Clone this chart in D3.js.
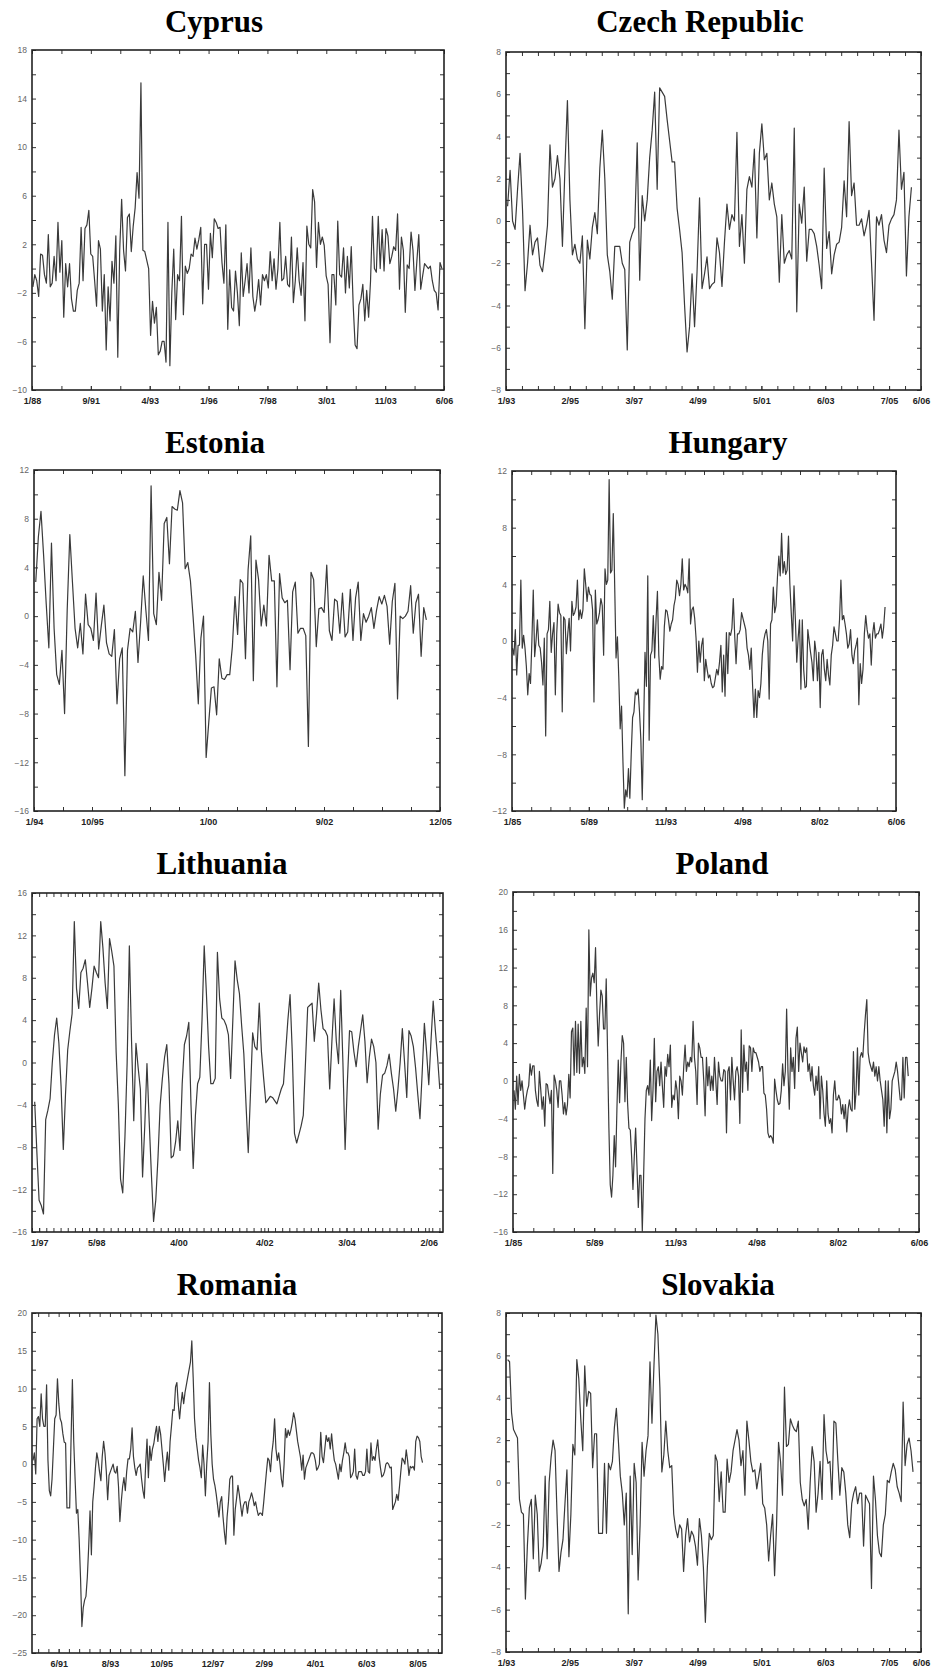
<!DOCTYPE html>
<html>
<head>
<meta charset="utf-8">
<script src="https://cdn.jsdelivr.net/npm/d3@7"></script>
<style>
body { margin: 0; background: #fff; }
</style>
</head>
<body>
<script>
// monthly series
var cyprusValues = [-1.5,-0.5,-1,-2.3,1.2,1.1,-0.5,-1.2,2.8,-1.5,-1.2,1.0,-1,3.8,-0.3,2.3,-4.0,0.4,-1.5,0.4,-2.5,-3.5,-3.5,-1.8,-1.2,3.4,-1.0,3.3,3.6,4.8,1.2,1.0,-1.0,-3.1,2.3,1.6,-3.5,-0.5,-6.7,-1.5,-4.3,0.6,-1.2,2.7,-7.3,1.5,5.7,1.5,-0.2,4.2,4.5,1.4,3.5,5.0,7.9,5.8,15.3,1.5,1.4,0.7,0,-5.5,-2.7,-4.5,-3.2,-7.1,-6.8,-6.0,-6.0,-7.7,3.8,-8.0,-2,1.6,-4.2,-0.5,-1,4.3,-3.8,0.2,-0.4,0,1.2,1.0,2.5,1.6,2.4,3.4,-2.9,2.0,2.0,-1.7,2.9,0.9,4.1,3.8,3.3,3.4,0.5,-1.2,3.6,-5.0,-0.1,-3.2,-3.5,-0.2,-2.0,-4.7,1.3,-2.3,-1.0,0.4,-2.0,1.7,-2.3,-3.5,-2.5,-0.9,-3.0,-0.5,-1.0,-0.5,-1.6,1.4,-1.0,0.8,-1.7,0.0,3.8,-1.0,-0.8,1.0,-1.3,-1.5,2.6,-2.8,-1.0,1.7,-1.0,-2.2,0.5,-4.3,3.5,2.0,1.7,6.5,5.5,0.1,3.8,2.0,2.6,1.9,-0.6,-1.3,-6.1,-0.5,-0.5,-3.0,3.9,-0.5,-0.7,1.7,-2.0,1.0,-1.6,1.8,-3.0,-6.3,-6.6,-3.0,-2.5,-1.3,-4.3,-1.8,-4.0,-1.0,4.3,0.0,-0.3,4.3,0.0,3.2,-0.2,3.3,2.7,0.4,1.0,1.8,1.5,4.5,-1.7,2.6,1.5,-3.6,0.3,0.0,3.0,1.5,-1.8,0.6,2.8,-1.7,-0.6,0.4,0.2,0.0,0.2,-1.0,-1.8,-2.0,-3.4,0.5,0.0];
var czechValues = [0.7,2.4,0.0,-0.4,1.5,3.2,0.5,-3.3,-2.0,-0.2,-1.6,-1.0,-0.8,-2.1,-2.4,-1.4,-0.2,3.6,1.6,2.0,3.1,2.0,-1.2,2.5,5.7,1.0,-1.6,-1.1,-1.8,-2.0,-0.7,-5.1,-0.9,-1.8,-0.3,0.4,-0.6,2.5,4.3,2.0,-1.6,-2.4,-3.7,-1.2,-1.2,-1.2,-2.0,-2.3,-6.1,-1.0,-0.6,-0.3,3.7,-2.8,1.2,0.0,1.0,3.0,4.3,6.1,1.5,6.3,6.1,5.9,4.8,3.8,2.8,2.8,0.6,-0.4,-1.5,-4.0,-6.2,-5.0,-2.5,-5.0,-2.4,1.1,-3.2,-2.5,-1.7,-3.2,-3.0,-2.9,-0.8,-1.5,-3.1,-1.0,0.8,-0.4,0.3,0.0,4.2,-1.2,0.3,-2.0,1.5,2.1,1.6,3.4,-0.8,3.2,4.6,2.9,3.2,1.0,1.8,0.8,0.2,-2.9,0.3,-2.0,-1.6,-1.4,-1.8,4.4,-4.3,0.8,-0.1,1.6,-1.9,-0.4,-0.4,-0.6,-1.2,-2.1,-3.2,2.5,-1.3,-0.5,-2.5,-1.6,-1.1,-1.0,-0.3,1.9,0.2,4.7,1.2,1.8,-0.2,-0.2,0.1,-0.7,-0.2,0.5,-2.0,-4.7,0.2,-0.2,0.3,-0.9,-1.5,-0.2,0.1,0.3,1.0,4.3,1.5,2.3,-2.6,0.2,1.6];
var estoniaValues = [2.8,6.5,8.6,5.0,1.0,-2.6,6.0,-1.0,-4.8,-5.6,-2.8,-8.0,0.5,6.7,2.8,-1.0,-2.6,-0.6,-3.1,1.8,-0.7,-1.0,-2.0,1.9,-2.7,-0.8,0.9,-2.2,-3.1,-3.3,-1.1,-7.2,-3.5,-2.6,-13.1,-2.8,-1.0,-1.3,0.4,-3.8,-0.5,3.3,0.5,-2.0,10.7,0.2,-0.7,3.6,1.3,7.6,8.1,4.3,9.0,8.8,8.7,10.3,9.3,3.9,4.4,2.9,0,-3.2,-7.2,-1.8,0,-11.6,-8.7,-5.9,-5.8,-8.1,-3.5,-5.1,-5.2,-4.8,-4.8,-2.5,1.6,-1.5,3.0,2.7,-3.5,3.8,6.6,-5.3,4.6,3.0,-0.8,0.9,-0.8,5.0,2.9,2.9,-5.8,3.5,1.5,1.1,1.3,-4.4,2.0,2.8,-1.4,-1.0,-1.0,-1.6,-10.7,3.6,3.0,-2.5,0.6,0.7,0.3,4.2,-1.2,-2.0,1.4,1.2,-1.4,1.9,-1.7,-1.3,2.2,-2.0,1.5,2.8,-2.0,0.2,-0.5,0,0.7,-1.0,0.5,1.6,1.0,1.7,0.8,-2.3,1.2,2.7,-6.8,0,-0.2,0,0.4,2.5,-1.4,1.1,1.8,-3.3,0.7,-0.3];
var hungaryValues = [-0.5,-1.0,0.8,-2.4,-0.3,-0.3,4.3,-0.5,0.4,-0.5,-1.8,-3.8,-2.3,-3.0,0,3.6,-1.1,0,1.5,-0.3,-0.5,-1.5,-3.1,0.2,-6.7,0.5,0.8,2.8,-0.8,0.5,1.3,-3.8,0.5,2.6,2.0,1.8,-5.0,1.7,1.5,-0.9,0.5,1.6,-0.7,2.8,1.8,2.0,2.4,4.3,1.5,2.2,1.6,2.2,5.1,4.0,2.8,3.8,3.3,3.2,2.2,-4.3,3.6,1.2,1.5,2.0,3.0,2.5,-1.0,5.1,4.0,4.3,11.4,4.8,5.0,9.0,4.0,-1.2,0.3,-2.6,-6.2,-4.6,-8.5,-11.8,-10.5,-11.0,-9.0,-11.1,-8.0,-5.4,-5.0,-3.6,-3.8,-3.4,-5.0,-7.0,-11.2,-6.0,-0.8,-3.2,4.6,-7.0,-1.0,-0.7,1.8,-1.2,1.5,3.5,-1.0,-2.7,-1.8,-2.0,1.0,2.2,2.1,1.5,0.7,1.2,1.5,2.5,3.0,4.3,4.0,3.2,4.0,5.8,3.6,4.0,3.8,3.4,5.8,1.2,2.2,2.4,1.6,0.2,-2.2,0.0,-1.5,-0.3,0.2,-2.8,-1.3,-2.0,-2.6,-2.4,-3.0,-3.3,-3.2,-2.6,-2.0,-2.4,-1.5,-0.3,-3.6,-1.0,-3.9,0.6,-2.3,0.6,0.4,0.9,3.0,0.4,-1.6,0.5,0.5,0.8,2.0,1.6,1.2,0.8,-0.5,-1.0,-2.0,-0.5,-3.2,-5.4,-3.4,-5.4,-3.5,-4.0,-3.0,-1.0,0.0,0.5,0.8,0.0,-4.1,1.2,1.5,3.8,2.0,2.5,4.5,6.0,4.6,7.6,4.8,5.6,4.7,5.0,7.4,4.0,2.0,0.0,3.9,1.5,-1.5,0.2,1.5,-3.4,1.5,-2.0,-3.3,-3.2,0.8,0.0,-0.8,-1.5,-2.8,0.0,-0.8,-2.8,-0.8,-4.7,-1.0,-0.6,-2.0,-2.8,-1.3,-2.4,-3.1,-1.0,-0.3,1.0,0.5,0.0,0.0,1.5,4.3,1.5,1.8,1.2,0.5,-0.5,-0.2,0.8,-1.0,-1.6,-0.7,-0.3,0.2,-4.5,-1.6,-3.0,-2.0,0.5,1.8,0.8,0.2,0.5,-1.7,0.5,1.3,0.2,0.5,0.5,0.8,1.2,0.2,1.0,2.4];
var lithuaniaValues = [-3.7,-8.5,-13.0,-13.5,-14.3,-5.4,-4.5,-3.4,0,2.6,4.2,1.8,-2.3,-8.2,-3.0,1.2,3.0,4.6,13.3,7.0,5.1,8.5,8.9,9.7,7.5,5.2,7.0,9.1,8.5,8.0,13.3,10.8,7.5,5.1,11.7,10.5,9.1,1.0,-4.0,-11.0,-12.3,-7.0,0,11.0,2.0,-5.5,1.8,-0.5,-2.5,-10.8,-6.0,-0.1,-5.5,-10.5,-15.0,-13.0,-9.0,-4.0,-1.5,0.5,1.7,-2.0,-9.0,-8.8,-7.5,-5.5,-8.3,-2.0,1.7,2.5,3.8,-4.0,-10.0,-5.0,-2.0,-1.4,4.0,11.0,6.5,1.5,-2.0,-2.0,-1.5,10.4,6.0,4.2,4.0,3.5,2.6,-1.5,4.0,9.6,7.8,6.5,3.5,0.8,-4.0,-8.5,-3.0,2.8,1.5,1.2,5.6,1.0,-1.5,-3.8,-3.5,-3.2,-3.3,-3.6,-3.9,-3.2,-2.5,-2.0,1.0,4.0,6.4,1.0,-6.7,-7.6,-6.8,-6.0,-5.0,0,5.2,5.4,5.6,2.0,4.5,7.5,5.0,3.2,3.0,2.5,-2.5,2.0,6.0,2.0,-0.1,6.8,0,-8.2,-2.0,3.0,2.9,1.0,-0.4,1.5,3.0,4.5,2.0,-1.9,0.5,2.2,1.5,0,-6.3,-3.0,-1.2,-1.0,-0.3,0.8,-1.0,-2.5,-4.6,-2.5,0,3.2,0,-3.3,3.0,2.5,1.5,-0.5,-3.0,-5.3,-1.0,3.7,1.0,-2.1,2.0,5.8,3.0,0.5,-2.5];
var polandValues = [-1.0,-3.0,0.5,-2.5,0.7,-1.0,0,-1.5,-3.0,-1.8,-1.0,-0.5,1.8,0.6,1.6,1.6,-1.0,-2.1,-2.7,1.0,-0.9,-3.0,-1.7,-4.8,-0.3,-0.4,-1.5,-2.4,-1.0,-9.8,0.6,0,-1.0,-2.8,0,0.0,-1.5,-3.5,-2.3,-3.6,-2.5,0.7,-1.8,5.2,5.6,0.6,6.3,0.9,6.0,0.8,6.3,1.5,2.5,0.8,7.7,1.5,16.0,9.0,10.9,11.4,10.4,14.1,8.0,3.7,7.0,9.6,9.0,5.5,5.5,10.8,3.0,-5.0,-11.0,-12.3,-10.0,-5.8,-9.1,-3.0,2.2,-2.3,2.0,4.8,4.0,-2.2,2.5,-2.4,-5.0,-5.2,-8.0,-11.5,-8.0,-5.0,-9.0,-13.4,-10.0,-10.0,-15.9,-10.0,-4.0,-1.0,-0.5,-1.5,2.2,-4.2,-1.0,4.5,-2.2,1.0,1.5,-0.5,2.0,-0.5,-2.8,1.5,0.5,2.8,1.5,3.8,-2.8,-1.5,-2.0,0.0,-1.0,-4.0,0.5,0.0,-1.5,1.5,3.8,1.0,2.0,1.5,2.5,2.0,6.3,2.5,1.0,-2.5,4.0,3.5,2.5,2.5,0.0,-3.7,2.5,-0.5,1.5,-1.0,0.5,-1.0,2.5,0.0,-2.5,2.0,0.5,0.0,0.0,1.2,1.0,-5.5,1.0,1.5,-2.0,2.5,0.0,-2.0,1.0,1.5,0.5,-4.5,5.4,-1.2,3.8,1.0,2.0,-1.0,3.7,3.5,1.0,3.5,3.0,3.0,2.5,2.0,1.0,1.5,1.5,-1.3,-1.5,-3.0,-5.5,-6.0,-5.8,-6.0,-6.6,0.2,-1.0,-2.0,-2.5,-2.4,-1.0,1.8,-0.5,1.0,7.6,1.0,-3.0,3.5,1.0,2.5,-0.8,4.5,5.7,1.0,4.0,3.0,2.0,3.6,3.0,3.5,1.0,1.8,0.0,1.5,-0.5,-1.5,0.5,-1.0,1.5,-4.0,0.5,-1.0,-3.5,-4.8,0.0,-3.5,-4.5,-4.0,-5.5,-1.5,0.0,-2.0,-2.0,-1.5,-2.0,-3.5,-2.5,-4.0,-2.5,-5.4,-3.0,-2.0,-3.0,-3.2,3.1,-3.0,-1.0,3.5,-1.5,2.5,3.0,2.5,5.0,7.0,8.6,3.0,2.0,1.5,1.0,2.0,0.5,1.5,0.0,1.5,0.0,-1.0,-2.0,-4.8,0.0,-5.5,0.0,-4.0,-3.0,0.0,0.5,1.0,2.0,1.0,-0.5,-2.0,-2.0,2.5,-1.8,2.5,2.5,0.5];
var romaniaValues = [0.5,1.5,-1.3,6.0,6.3,5.0,9.3,6.0,5.0,5.0,10.5,0.5,-3.5,-4.2,-2.0,2.0,6.0,6.5,11.3,8.0,6.0,5.5,4.0,2.9,2.8,-5.8,-5.8,-5.8,3.0,11.2,3.0,-2.0,-6.5,-6.0,-10.0,-15.0,-21.5,-19.0,-18.0,-17.5,-15.0,-11.0,-6.2,-12.0,-5.0,-3.0,-0.5,1.5,0.5,-1.0,-2.2,1.0,3.0,1.5,-1.0,-4.7,-1.5,-1.0,-0.5,0.0,-1.0,-1.2,-0.3,-3.0,-7.6,-5.0,-3.0,-1.8,-3.5,-1.0,0.7,0.7,2.0,4.8,1.0,-0.5,-1.5,-0.5,-0.3,0.0,-2.0,-3.5,-4.5,0.0,3.3,-1.8,2.4,0.5,2.0,2.7,4.0,5.0,3.0,5.0,4.0,2.0,0.0,-2.3,0.0,1.6,-0.8,3.0,5.0,7.2,7.1,10.2,10.8,8.0,6.0,8.0,9.5,8.0,9.5,10.5,11.5,12.5,13.5,16.3,11.5,6.0,3.5,2.0,0.5,-0.5,-1.8,2.5,0.0,-4.2,0.0,3.0,10.8,4.0,0.0,-2.0,-2.8,-4.0,-5.5,-7.0,-5.0,-4.3,-7.0,-9.0,-10.6,-7.0,-5.0,-2.0,-1.6,-1.6,-9.4,-6.0,-4.5,-2.8,-4.0,-5.5,-6.9,-5.5,-5.0,-5.0,-6.5,-5.0,-4.5,-3.8,-4.5,-5.5,-5.0,-6.0,-6.8,-6.5,-6.5,-6.8,-5.0,-3.0,-1.0,0.8,0.5,-1.0,1.5,3.0,6.0,2.0,0.5,1.5,0.0,-2.0,-3.0,0.0,4.7,3.5,4.5,3.8,4.5,5.5,6.8,6.0,4.5,3.0,2.0,1.0,-0.8,1.2,-2.0,-0.5,0.0,0.5,1.0,1.5,1.5,1.3,0.5,-0.8,-0.5,0.0,4.2,1.0,0.2,2.0,3.8,3.0,3.5,2.0,4.0,2.0,0.5,0.0,-1.0,-2.0,0.0,-1.0,0.5,1.5,2.8,1.5,1.5,1.0,-1.8,-1.5,-1.0,2.0,-1.5,-2.0,-1.0,-1.0,-1.0,-1.5,-1.5,-1.0,2.0,-1.0,-1.2,2.8,0.5,1.0,0.5,2.0,3.2,1.0,-0.5,-1.7,-1.5,-1.0,0.0,0.2,0.0,-0.5,-0.4,-6.0,-5.5,-5.0,-4.0,-4.8,-3.0,-1.0,0.8,0.5,0.0,1.9,0.5,-1.5,-0.3,-0.5,-0.3,-0.8,3.0,3.7,3.5,3.0,1.0,0.2];
var slovakiaValues = [5.8,5.7,3.3,2.5,2.3,2.1,-0.8,-1.4,-1.5,-5.5,-3.0,-1.2,-0.8,-3.6,-0.6,-1.5,-4.2,-3.8,-3.0,0.3,-3.6,0.0,1.2,2.0,1.5,-1.5,-4.2,-3.3,-2.7,-1.0,0.6,-3.5,-1.5,1.8,1.3,5.8,4.9,3.0,1.5,5.5,3.6,4.3,4.2,0.7,2.3,2.3,-2.4,-2.4,-2.4,0.9,-2.4,0.9,0.6,1.0,2.6,3.5,2.0,0.3,-0.5,-2.0,-0.5,-6.2,0.3,-3.4,0.9,0.0,-4.6,-2.0,1.9,0.3,1.5,2.2,5.7,2.8,5.5,7.9,7.0,4.5,0.5,1.3,2.9,1.5,0.7,0.8,-1.5,-2.2,-2.6,-2.0,-2.2,-4.2,-2.5,-1.7,-2.8,-2.3,-2.5,-3.0,-3.9,-1.7,-2.5,-4.0,-6.6,-4.0,-2.4,-2.7,-2.5,1.3,1.0,-0.9,0.5,-1.4,-1.4,1.1,0.0,0.5,1.5,2.0,2.5,2.0,0.8,1.5,-0.6,2.9,2.0,1.0,0.5,0.6,-0.3,0.3,0.9,-1.0,-1.2,-2.0,-3.7,-2.5,-1.5,-4.4,-2.0,1.9,1.0,-0.6,4.5,1.7,1.8,3.0,2.7,2.5,2.4,2.9,0.0,-0.8,-1.1,-0.8,-2.2,0.0,1.7,1.0,-1.4,-0.5,1.0,-0.8,3.2,1.5,0.9,1.0,-0.8,2.9,2.8,1.0,-0.6,0.7,0.5,-0.5,-2.0,-2.6,-1.0,-0.5,-0.2,-1.0,-0.5,-0.5,-3.0,-0.6,-0.8,-1.0,-5.0,0.3,-0.8,-2.5,-3.3,-3.5,-2.0,-1.5,0.1,0.0,0.5,0.9,0.6,-0.2,-0.5,-0.9,3.8,0.8,1.8,2.1,1.5,0.5];

// tick labels under each x axis
var cyprusTicks = ['1/88','9/91','4/93','1/96','7/98','3/01','11/03','6/06'];
var czechTicks = ['1/93','2/95','3/97','4/99','5/01','6/03','7/05','6/06'];
var estoniaTicks = ['1/94','10/95','1/00','9/02','12/05'];
var hungaryTicks = ['1/85','5/89','11/93','4/98','8/02','6/06'];
var lithuaniaTicks = ['1/97','5/98','4/00','4/02','3/04','2/06'];
var polandTicks = ['1/85','5/89','11/93','4/98','8/02','6/06'];
var romaniaTicks = ['6/91','8/93','10/95','12/97','2/99','4/01','6/03','8/05'];
var slovakiaTicks = ['1/93','2/95','3/97','4/99','5/01','6/03','7/05','6/06'];

// layout of the eight panels
var panels = [
    {title: 'Cyprus', values: cyprusValues, labels: cyprusTicks, labelAt: [0,2,4,6,8,10,12,14],
     xDomain: [0, 14], xStep: 1, span: [0.03, 13.93], yDomain: [-10, 18], yStep: 2, yLabelStep: 4,
     box: [32, 50, 444, 390], tx: 214, ty: 32},
    {title: 'Czech Republic', values: czechValues, labels: czechTicks, labelAt: [0,4,8,12,16,20,24,26],
     xDomain: [0, 26], xStep: 1, span: [0.1, 25.4], yDomain: [-8, 8], yStep: 1, yLabelStep: 2,
     box: [506, 52, 921, 390], tx: 700, ty: 32},
    {title: 'Estonia', values: estoniaValues, labels: estoniaTicks, labelAt: [0,2,6,10,14],
     xDomain: [0, 14], xStep: 1, span: [0.06, 13.53], yDomain: [-16, 12], yStep: 2, yLabelStep: 4,
     box: [34, 470, 440, 811], tx: 215, ty: 453},
    {title: 'Hungary', values: hungaryValues, labels: hungaryTicks, labelAt: [0,4,8,12,16,20],
     xDomain: [0, 20], xStep: 1, span: [0.03, 19.43], yDomain: [-12, 12], yStep: 2, yLabelStep: 4,
     box: [512, 471, 896, 811], tx: 728, ty: 453},
    {title: 'Lithuania', values: lithuaniaValues, labels: lithuaniaTicks, labelAt: [2,18,41,65,88,111],
     xDomain: [0, 115], xStep: 2, span: [0.75, 114.1], yDomain: [-16, 16], yStep: 2, yLabelStep: 4,
     box: [32, 893, 443, 1232], tx: 222, ty: 874},
    {title: 'Poland', values: polandValues, labels: polandTicks, labelAt: [0,4,8,12,16,20],
     xDomain: [0, 20], xStep: 1, span: [0.05, 19.47], yDomain: [-16, 20], yStep: 2, yLabelStep: 4,
     box: [513, 892, 919, 1232], tx: 722, ty: 874},
    {title: 'Romania', values: romaniaValues, labels: romaniaTicks, labelAt: [0,5,10,15,20,25,30,35],
     xDomain: [-2.6, 37.4], xStep: 1, span: [-2.5, 35.5], yDomain: [-25, 20], yStep: 2.5, yLabelStep: 5,
     box: [32, 1313, 442, 1653], tx: 237, ty: 1295},
    {title: 'Slovakia', values: slovakiaValues, labels: slovakiaTicks, labelAt: [0,4,8,12,16,20,24,26],
     xDomain: [0, 26], xStep: 1, span: [0.1, 25.5], yDomain: [-8, 8], yStep: 1, yLabelStep: 2,
     box: [506, 1313, 921, 1652], tx: 718, ty: 1295}
];

var svg = d3.select('body').append('svg').attr('width', 936).attr('height', 1675);
var fmt = d3.format('d');

panels.forEach(function(p) {
    var L = p.box[0], T = p.box[1], R = p.box[2], B = p.box[3];
    var x = d3.scaleLinear().domain(p.xDomain).range([L, R]);
    var y = d3.scaleLinear().domain(p.yDomain).range([B, T]);
    var g = svg.append('g');

    g.append('text')
        .attr('x', p.tx).attr('y', p.ty)
        .attr('text-anchor', 'middle')
        .attr('font-family', '"Liberation Serif", "Times New Roman", serif')
        .attr('font-weight', 'bold')
        .attr('font-size', 31)
        .text(p.title);

    var xMinor = d3.range(Math.ceil(p.xDomain[0] / p.xStep) * p.xStep, p.xDomain[1] + 1e-9, p.xStep);
    var yMinor = d3.range(p.yDomain[0], p.yDomain[1] + 1e-9, p.yStep);
    var isLabel = function(v) {
        var k = (v - p.yDomain[0]) / p.yLabelStep;
        return Math.abs(k - Math.round(k)) < 1e-6;
    };

    // inward ticks on all four sides
    g.append('g').attr('transform', 'translate(0,' + B + ')')
        .call(d3.axisBottom(x).tickValues(xMinor).tickSizeInner(-4).tickSizeOuter(0).tickFormat(''));
    g.append('g').attr('transform', 'translate(0,' + T + ')')
        .call(d3.axisTop(x).tickValues(xMinor).tickSizeInner(-4).tickSizeOuter(0).tickFormat(''));
    g.append('g').attr('transform', 'translate(' + R + ',0)')
        .call(d3.axisRight(y).tickValues(yMinor).tickSizeInner(-4).tickSizeOuter(0).tickFormat(''));

    var yAxis = g.append('g').attr('transform', 'translate(' + L + ',0)')
        .call(d3.axisLeft(y).tickValues(yMinor).tickSizeInner(-4).tickSizeOuter(0).tickPadding(5)
            .tickFormat(function(d) { return isLabel(d) ? fmt(d) : ''; }));
    yAxis.selectAll('text')
        .attr('font-family', '"Liberation Sans", Arial, sans-serif')
        .attr('font-size', 8.5)
        .attr('fill', '#666');

    var xAxis = g.append('g').attr('transform', 'translate(0,' + B + ')')
        .call(d3.axisBottom(x).tickValues(p.labelAt).tickSizeInner(-4).tickSizeOuter(0).tickPadding(8)
            .tickFormat(function(d, i) { return p.labels[i]; }));
    xAxis.selectAll('text')
        .attr('font-family', '"Liberation Sans", Arial, sans-serif')
        .attr('font-weight', 'bold')
        .attr('font-size', 9)
        .attr('fill', '#222');

    g.selectAll('.domain').remove();
    g.selectAll('.tick line').attr('stroke', '#333').attr('stroke-width', 1);

    var n = p.values.length;
    var line = d3.line()
        .x(function(d, i) { return x(p.span[0] + i * (p.span[1] - p.span[0]) / (n - 1)); })
        .y(function(d) { return y(d); });

    g.append('path')
        .datum(p.values)
        .attr('d', line)
        .attr('fill', 'none')
        .attr('stroke', '#3a3a3a')
        .attr('stroke-width', 1.2)
        .attr('stroke-linejoin', 'round');

    g.append('rect')
        .attr('x', L).attr('y', T)
        .attr('width', R - L).attr('height', B - T)
        .attr('fill', 'none')
        .attr('stroke', '#222')
        .attr('stroke-width', 1.6);
});
</script>
</body>
</html>
